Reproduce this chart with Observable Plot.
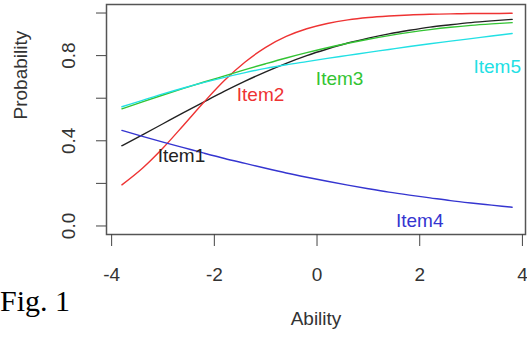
<!DOCTYPE html>
<html><head><meta charset="utf-8">
<script src="https://cdn.jsdelivr.net/npm/d3@7"></script>
<script src="https://cdn.jsdelivr.net/npm/@observablehq/plot@0.6"></script>
<style>
body{margin:0;background:#fff;}
#wrap{position:relative;width:527px;height:339px;overflow:hidden;background:#fff;}
#fig{position:absolute;left:0px;top:286px;font:30px/30px "Liberation Serif","Times New Roman",serif;color:#000;white-space:nowrap;}
</style></head><body>
<div id="wrap"><div id="chart"></div><div id="fig">Fig. 1</div></div>
<script>
const ability = [-3.8,-3.4,-3.0,-2.6,-2.2,-1.8,-1.4,-1.0,-0.6,-0.2,0.2,0.6,1.0,1.4,1.8,2.2,2.6,3.0,3.4,3.8];
const item1 = [0.377,0.428,0.480,0.532,0.583,0.633,0.680,0.724,0.764,0.800,0.831,0.859,0.882,0.902,0.919,0.934,0.945,0.955,0.963,0.970];
const item2 = [0.193,0.271,0.366,0.473,0.582,0.684,0.770,0.839,0.890,0.926,0.951,0.968,0.979,0.986,0.991,0.994,0.996,0.998,0.998,0.999];
const item3 = [0.550,0.583,0.615,0.646,0.676,0.705,0.734,0.762,0.789,0.814,0.837,0.858,0.877,0.894,0.909,0.922,0.933,0.942,0.949,0.955];
const item4 = [0.449,0.421,0.394,0.368,0.342,0.317,0.294,0.271,0.249,0.229,0.210,0.192,0.175,0.159,0.145,0.132,0.119,0.108,0.098,0.088];
const item5 = [0.560,0.590,0.620,0.648,0.674,0.698,0.720,0.740,0.757,0.772,0.787,0.801,0.815,0.829,0.843,0.856,0.868,0.880,0.892,0.904];
const itemNames = ["Item1","Item2","Item3","Item4","Item5"];
const itemColors = ["#222222","#ee3333","#33c433","#3535d0","#22e0e4"];
const labelX = [-2.64,-1.1,0.44,2.0,3.51];
const labelY = [0.33,0.617,0.69,0.026,0.749];
const xTicks = [-4,-2,0,2,4];
const yTicks = [0,0.2,0.4,0.6,0.8,1.0];
const yLabels = [0,0.4,0.8];

const series = [item1,item2,item3,item4,item5];
const rows = series.flatMap((s,i)=> s.map((v,j)=>({ability: ability[j], p: v, item: itemNames[i]})));
const labels = itemNames.map((n,i)=>({x: labelX[i], y: labelY[i], item: n}));

const chart = Plot.plot({
  width:527, height:339, marginLeft:106, marginRight:2, marginTop:4, marginBottom:105,
  style:{fontFamily:"'Liberation Sans', Arial, sans-serif", fontSize:"19px", background:"#fff", color:"#333"},
  x:{domain:[-4.1,4.06]},
  y:{domain:[-0.04,1.04]},
  color:{domain:itemNames, range:itemColors},
  marks:[
    Plot.line(rows, {x:"ability", y:"p", z:"item", stroke:"item", strokeWidth:1.4, curve:"monotone-x"}),
    Plot.frame({stroke:"#555", strokeWidth:1.5}),
    Plot.axisX({ticks:xTicks, tickSize:12, tickPadding:21, tickFormat:d=>String(d), label:null, fontSize:19, stroke:"#444"}),
    Plot.axisY({ticks:yTicks, tickSize:10, tickFormat:()=>"", label:null, stroke:"#444"}),
    Plot.text(yLabels, {y:d=>d, text:d=>d.toFixed(1), frameAnchor:"left", rotate:-90, dx:-38, textAnchor:"middle", lineAnchor:"middle", fontSize:19, fill:"#333"}),
    Plot.text(labels, {x:"x", y:"y", text:"item", fill:"item", fontSize:19, textAnchor:"middle", lineAnchor:"middle"}),
    Plot.text(["Probability"], {frameAnchor:"left", dx:-86, rotate:-90, text:d=>d, fontSize:19, fill:"#333"}),
    Plot.text(["Ability"], {frameAnchor:"bottom", dy:90, text:d=>d, fontSize:19, fill:"#333"})
  ]
});
document.getElementById("chart").appendChild(chart);
</script>
</body></html>
